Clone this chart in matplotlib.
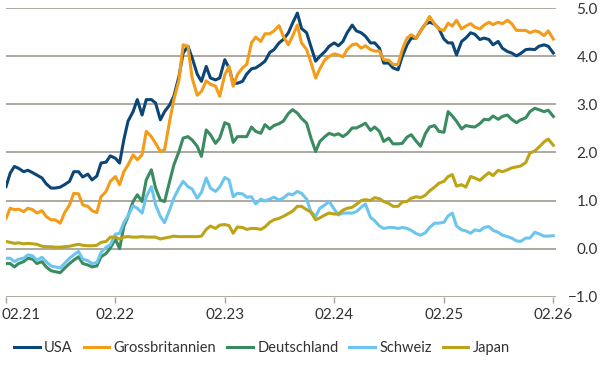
import numpy as np
import pandas as pd
import matplotlib
matplotlib.use("Agg")
import matplotlib.pyplot as plt
import matplotlib.dates as mdates
from matplotlib.transforms import ScaledTranslation

# Rendite 10-jaehriger Staatsanleihen in %, halbmonatlich, 02.21 - 02.26
usa = [1.29, 1.57, 1.71, 1.67, 1.60, 1.63, 1.58, 1.53, 1.47, 1.35, 1.26, 1.26, 1.28, 1.33, 1.40, 1.60,
       1.60, 1.49, 1.55, 1.43, 1.51, 1.78, 1.80, 1.93, 1.88, 1.78, 2.26, 2.65, 2.85, 3.10, 2.78, 3.10,
       3.10, 3.03, 2.68, 2.85, 2.99, 3.17, 3.58, 4.07, 4.21, 3.97, 3.63, 3.48, 3.79, 3.55, 3.51, 3.55,
       3.93, 3.76, 3.44, 3.44, 3.48, 3.63, 3.74, 3.76, 3.83, 3.90, 4.08, 4.14, 4.28, 4.35, 4.49, 4.69,
       4.90, 4.58, 4.49, 4.21, 3.90, 4.00, 4.10, 4.21, 4.28, 4.22, 4.31, 4.49, 4.65, 4.53, 4.49, 4.42,
       4.28, 4.28, 4.17, 3.86, 3.86, 3.76, 3.72, 4.00, 4.24, 4.38, 4.38, 4.53, 4.67, 4.71, 4.67, 4.58,
       4.36, 4.28, 4.28, 4.03, 4.31, 4.38, 4.49, 4.46, 4.35, 4.38, 4.35, 4.24, 4.31, 4.17, 4.10, 4.07,
       4.01, 4.06, 4.14, 4.15, 4.14, 4.21, 4.24, 4.21, 4.07]
gb = [0.63, 0.84, 0.81, 0.82, 0.77, 0.84, 0.81, 0.74, 0.79, 0.67, 0.60, 0.60, 0.53, 0.74, 0.91, 1.15,
      1.14, 0.91, 0.88, 0.79, 0.75, 1.08, 1.19, 1.40, 1.50, 1.33, 1.60, 1.74, 1.95, 1.85, 1.95, 2.44,
      2.33, 2.19, 2.02, 2.06, 2.65, 3.10, 3.51, 4.24, 4.21, 3.55, 3.19, 3.27, 3.49, 3.42, 3.38, 3.17,
      3.62, 3.79, 3.38, 3.62, 3.76, 3.83, 4.28, 4.40, 4.31, 4.47, 4.47, 4.53, 4.64, 4.42, 4.24, 4.42,
      4.65, 4.28, 4.14, 3.88, 3.55, 3.74, 3.93, 4.00, 4.05, 4.03, 3.99, 4.14, 4.24, 4.26, 4.17, 4.22,
      4.14, 4.11, 4.11, 3.93, 3.92, 3.83, 3.83, 4.14, 4.38, 4.45, 4.38, 4.53, 4.67, 4.83, 4.67, 4.57,
      4.54, 4.69, 4.63, 4.75, 4.57, 4.63, 4.68, 4.61, 4.57, 4.65, 4.71, 4.66, 4.71, 4.68, 4.75, 4.68,
      4.54, 4.54, 4.54, 4.49, 4.53, 4.51, 4.43, 4.53, 4.36]
deutschland = [-0.31, -0.31, -0.38, -0.31, -0.27, -0.20, -0.22, -0.31, -0.27, -0.38, -0.46, -0.48, -0.50,
               -0.41, -0.31, -0.24, -0.17, -0.31, -0.34, -0.38, -0.36, -0.17, -0.10, 0.01, 0.20, 0.00,
               0.46, 0.67, 0.98, 1.12, 0.98, 1.43, 1.64, 1.26, 1.01, 0.98, 1.40, 1.74, 2.02, 2.30, 2.33,
               2.26, 2.13, 1.92, 2.47, 2.37, 2.19, 2.30, 2.62, 2.58, 2.21, 2.33, 2.33, 2.33, 2.53, 2.44,
               2.40, 2.58, 2.49, 2.56, 2.60, 2.65, 2.81, 2.89, 2.82, 2.71, 2.61, 2.31, 2.02, 2.23, 2.33,
               2.40, 2.36, 2.39, 2.33, 2.39, 2.51, 2.51, 2.56, 2.61, 2.46, 2.53, 2.44, 2.23, 2.30, 2.18,
               2.18, 2.19, 2.32, 2.37, 2.23, 2.13, 2.39, 2.53, 2.56, 2.44, 2.42, 2.85, 2.76, 2.65, 2.49,
               2.56, 2.54, 2.53, 2.60, 2.69, 2.68, 2.76, 2.69, 2.75, 2.78, 2.69, 2.62, 2.68, 2.72, 2.85,
               2.92, 2.89, 2.85, 2.88, 2.75]
schweiz = [-0.20, -0.20, -0.27, -0.22, -0.20, -0.13, -0.15, -0.24, -0.18, -0.27, -0.36, -0.38, -0.40,
           -0.31, -0.20, -0.13, -0.06, -0.22, -0.25, -0.31, -0.29, -0.08, 0.03, 0.08, 0.30, 0.32, 0.54,
           0.68, 0.89, 0.84, 0.74, 1.08, 1.29, 0.91, 0.67, 0.54, 0.81, 1.05, 1.26, 1.40, 1.29, 1.24,
           1.05, 1.17, 1.47, 1.26, 1.19, 1.28, 1.48, 1.43, 1.08, 1.15, 1.14, 1.07, 1.08, 0.93, 1.03,
           0.99, 1.03, 1.07, 1.01, 1.05, 1.14, 1.12, 1.19, 1.15, 1.03, 0.77, 0.67, 0.84, 0.91, 0.98,
           0.82, 0.70, 0.74, 0.74, 0.74, 0.77, 0.86, 0.93, 0.65, 0.58, 0.47, 0.42, 0.44, 0.44, 0.42,
           0.44, 0.42, 0.38, 0.31, 0.28, 0.33, 0.44, 0.53, 0.53, 0.55, 0.68, 0.74, 0.47, 0.39, 0.37,
           0.32, 0.39, 0.37, 0.44, 0.46, 0.38, 0.34, 0.28, 0.25, 0.22, 0.16, 0.15, 0.22, 0.22, 0.34,
           0.31, 0.26, 0.26, 0.27]
japan = [0.15, 0.13, 0.11, 0.12, 0.10, 0.11, 0.10, 0.09, 0.05, 0.04, 0.04, 0.03, 0.03, 0.04, 0.05, 0.07,
         0.09, 0.07, 0.06, 0.06, 0.07, 0.13, 0.15, 0.24, 0.24, 0.20, 0.24, 0.25, 0.24, 0.24, 0.25, 0.24,
         0.24, 0.24, 0.20, 0.22, 0.24, 0.26, 0.25, 0.25, 0.25, 0.25, 0.25, 0.26, 0.40, 0.47, 0.42, 0.49,
         0.50, 0.48, 0.32, 0.45, 0.44, 0.40, 0.42, 0.42, 0.40, 0.45, 0.55, 0.60, 0.63, 0.67, 0.73, 0.78,
         0.88, 0.88, 0.81, 0.76, 0.60, 0.64, 0.70, 0.74, 0.72, 0.72, 0.80, 0.84, 0.86, 0.92, 1.00, 1.02,
         1.00, 1.06, 1.04, 0.98, 0.94, 0.88, 0.88, 0.97, 0.98, 1.05, 1.08, 1.06, 1.11, 1.20, 1.28, 1.36,
         1.40, 1.50, 1.54, 1.30, 1.33, 1.28, 1.50, 1.47, 1.42, 1.50, 1.58, 1.52, 1.63, 1.60, 1.64, 1.68,
         1.70, 1.72, 1.79, 1.99, 2.03, 2.11, 2.22, 2.28, 2.15]

names = ["USA", "Grossbritannien", "Deutschland", "Schweiz", "Japan"]
colors = ["#0b4677", "#f39c1a", "#3a8b5f", "#6cc5ef", "#bda416"]
series = [usa, gb, deutschland, schweiz, japan]
dates = pd.date_range("2021-02-01", periods=len(usa), freq="SMS")

plt.rcParams['font.family'] = ['Lato', 'DejaVu Sans']

fig = plt.figure(figsize=(6, 3.8), dpi=100)
ax = fig.add_axes([0.01, 0.2192, 0.9167, 0.759])

for vals, name, col in zip(series, names, colors):
    ax.plot(dates, vals, color=col, lw=2.2, label=name, solid_joinstyle="round")

ax.set_ylim(-1, 5)
ax.set_xlim(pd.Timestamp("2021-02-01"), pd.Timestamp("2026-02-10"))
ax.set_yticks(np.arange(-1, 5.1, 1))
ax.set_yticklabels([f"{v:.1f}".replace("-", "\u2212") for v in np.arange(-1, 5.1, 1)])
ax.yaxis.tick_right()
ax.grid(axis="y", color="#a8a398", lw=1.3)
ax.set_axisbelow(True)
for s in ax.spines.values():
    s.set_visible(False)

ax.xaxis.set_major_locator(mdates.MonthLocator(bymonth=2))
ax.xaxis.set_major_formatter(mdates.DateFormatter("%m.%y"))
ax.tick_params(axis="x", length=4, color="#a8a398", width=1, labelsize=11, labelcolor="#333333", pad=4)
ax.tick_params(axis="y", length=0, labelsize=11, labelcolor="#333333", pad=30)
for lab in ax.get_yticklabels():
    lab.set_horizontalalignment("right")

fig.canvas.draw()
first = ax.get_xticklabels()[0]
first.set_horizontalalignment("left")
first.set_transform(first.get_transform() + ScaledTranslation(-4 / 100, 0, fig.dpi_scale_trans))

fig.legend(loc="center", bbox_to_anchor=(262 / 600, 1 - 348 / 380), ncol=5, frameon=False,
           fontsize=10.5, handlelength=1.75, columnspacing=0.75, handletextpad=0.3,
           labelcolor="#333333")

fig.savefig("out.png", dpi=100)
